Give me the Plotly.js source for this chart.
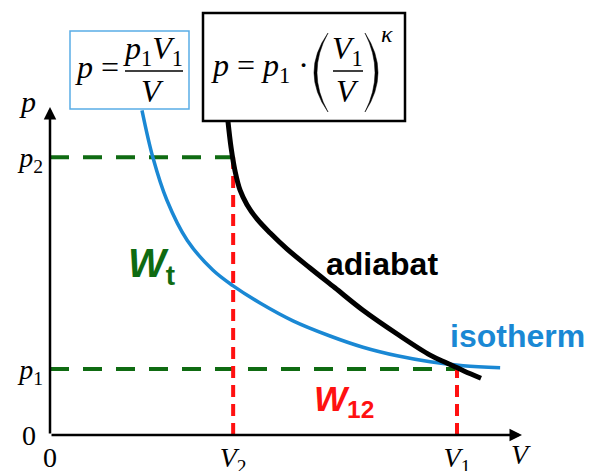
<!DOCTYPE html>
<html>
<head>
<meta charset="utf-8">
<script src="https://cdn.plot.ly/plotly-3.0.1.min.js"></script>
<style>
body { margin: 0; background: #fff; }
#chart { width: 590px; height: 471px; }
</style>
</head>
<body>
<div id="chart"></div>
<script>
// state points, in units of V1 and p1
var V1 = 1.0, V2 = 0.45
var p1 = 1.0, p2 = 4.21

// isotherm p = p1*V1/V
var isoV = [0.226, 0.253, 0.287, 0.337, 0.400, 0.450, 0.516, 0.597, 0.688, 0.769, 0.853, 0.934, 1.015, 1.106]
var isoP = [4.92, 4.20, 3.56, 2.95, 2.50, 2.26, 2.00, 1.73, 1.50, 1.33, 1.20, 1.11, 1.05, 1.02]

// adiabat p = p1*(V1/V)^k
var adiV = [0.437, 0.445, 0.455, 0.467, 0.484, 0.509, 0.541, 0.582, 0.639, 0.700, 0.769, 0.853, 0.934, 0.975, 1.017, 1.059]
var adiP = [4.77, 4.35, 3.99, 3.71, 3.49, 3.27, 3.06, 2.82, 2.53, 2.23, 1.89, 1.53, 1.21, 1.09, 0.97, 0.86]

var xTicks = [0, V2, V1]
var xTickText = ['0', '<i>V</i><sub>2</sub>', '<i>V</i><sub>1</sub>']
var yTicks = [0, p1, p2]
var yTickText = ['0&nbsp;', '<i>p</i><sub>1</sub>', '<i>p</i><sub>2</sub>']

var green = '#0f6b12'
var red = '#ff1111'
var blue = '#1a88d4'
var serif = 'Liberation Serif, Times New Roman, serif'
var sans = 'Liberation Sans, Arial, sans-serif'

// plot area is 50..530 x 100..435 px
var L = 50, T = 100, W = 480, H = 335
function xp(px) { return (px - L) / W }
function yp(py) { return (T + H - py) / H }
var xmax = W / 407, ymax = H / 66

var data = [
  {x: [0, V1], y: [p1, p1], mode: 'lines', line: {color: green, width: 4, dash: '19px,14px'}},
  {x: [0, V2], y: [p2, p2], mode: 'lines', line: {color: green, width: 4, dash: '19px,14px'}},
  {x: [V2, V2], y: [0, p2], mode: 'lines', line: {color: red, width: 4, dash: '12px,7px'}},
  {x: [V1, V1], y: [0, p1], mode: 'lines', line: {color: red, width: 4, dash: '12px,7px'}},
  {x: isoV, y: isoP, mode: 'lines', line: {color: blue, width: 3.5, shape: 'spline', smoothing: 1}},
  {x: adiV, y: adiP, mode: 'lines', line: {color: 'black', width: 5, shape: 'spline', smoothing: 1}}
]

function label(px, py, text, font, extra) {
  var a = {xref: 'paper', yref: 'paper', x: xp(px), y: yp(py), text: text, showarrow: false,
    xanchor: 'center', yanchor: 'middle', font: font}
  for (var k in extra) a[k] = extra[k]
  return a
}
var mathFont = {family: serif, size: 32, color: 'black'}

var annotations = [
  // axes with arrow heads
  {x: (522 - L) / 407, y: 0, ax: 0, ay: 0, xref: 'x', yref: 'y', axref: 'x', ayref: 'y', text: '',
    showarrow: true, arrowhead: 2, arrowsize: 1, arrowwidth: 2.5, arrowcolor: 'black', standoff: 0},
  {x: 0, y: (T + H - 107) / 66, ax: 0, ay: 0, xref: 'x', yref: 'y', axref: 'x', ayref: 'y', text: '',
    showarrow: true, arrowhead: 2, arrowsize: 1, arrowwidth: 2.5, arrowcolor: 'black', standoff: 0},
  label(27, 102, '<i>p</i>', {family: serif, size: 30, color: 'black'}),
  label(521, 454, '<i>V</i>', {family: serif, size: 28, color: 'black'}),
  // curve labels
  label(151, 266, '<i>W</i><sub>t</sub>', {family: sans, size: 40, color: green, weight: 'bold'}),
  label(344, 401, '<i>W</i><sub>12</sub>', {family: sans, size: 35, color: red, weight: 'bold'}),
  label(382, 264, 'adiabat', {family: sans, size: 32, color: 'black', weight: 'bold'}),
  label(448, 336, 'isotherm', {family: sans, size: 32, color: blue, weight: 'bold'}, {xanchor: 'left'}),
  // isotherm formula
  label(97, 67, '<i>p</i> =', mathFont),
  label(153, 50, '<i>p</i><sub>1</sub><i>V</i><sub>1</sub>', mathFont),
  label(152, 91, '<i>V</i>', mathFont),
  // adiabat formula
  label(260, 67, '<i>p</i> = <i>p</i><sub>1</sub> ·', mathFont),
  label(347, 50, '<i>V</i><sub>1</sub>', mathFont),
  label(347, 91, '<i>V</i>', mathFont),
  label(387, 34, '<i>κ</i>', {family: serif, size: 24, color: 'black'})
]

function paren(xEnd, xOut, xIn, y0, y1) {
  var ym = yp((y0 + y1) / 2)
  return 'M ' + xp(xEnd) + ',' + yp(y0) + ' Q ' + xp(xOut) + ',' + ym + ' ' + xp(xEnd) + ',' + yp(y1) +
    ' Q ' + xp(xIn) + ',' + ym + ' ' + xp(xEnd) + ',' + yp(y0) + ' Z'
}

var shapes = [
  {type: 'rect', xref: 'paper', yref: 'paper', x0: xp(70), x1: xp(189), y0: yp(109), y1: yp(31),
    line: {color: '#59ade6', width: 1.5}},
  {type: 'rect', xref: 'paper', yref: 'paper', x0: xp(203), x1: xp(405), y0: yp(121), y1: yp(13),
    line: {color: 'black', width: 2.5}},
  {type: 'line', xref: 'paper', yref: 'paper', x0: xp(125), x1: xp(183), y0: yp(71), y1: yp(71),
    line: {color: 'black', width: 1.5}},
  {type: 'line', xref: 'paper', yref: 'paper', x0: xp(333), x1: xp(363), y0: yp(71), y1: yp(71),
    line: {color: 'black', width: 1.5}},
  {type: 'path', xref: 'paper', yref: 'paper', path: paren(328, 300, 306, 33, 112),
    fillcolor: 'black', line: {color: 'black', width: 0.5}},
  {type: 'path', xref: 'paper', yref: 'paper', path: paren(365, 391, 385, 33, 112),
    fillcolor: 'black', line: {color: 'black', width: 0.5}}
]

var layout = {
  width: 590, height: 471,
  margin: {l: L, r: 590 - L - W, t: T, b: 471 - T - H},
  paper_bgcolor: 'white', plot_bgcolor: 'white',
  showlegend: false,
  xaxis: {range: [0, xmax], showgrid: false, zeroline: false, showline: false, ticks: '',
    tickvals: xTicks, ticktext: xTickText, ticklabelstandoff: 3,
    tickfont: {family: serif, size: 28, color: 'black'}},
  yaxis: {range: [0, ymax], showgrid: false, zeroline: false, showline: false, ticks: '',
    tickvals: yTicks, ticktext: yTickText, ticklabelstandoff: 6,
    tickfont: {family: serif, size: 28, color: 'black'}},
  annotations: annotations,
  shapes: shapes
}

Plotly.newPlot('chart', data, layout, {staticPlot: true})
</script>
</body>
</html>
